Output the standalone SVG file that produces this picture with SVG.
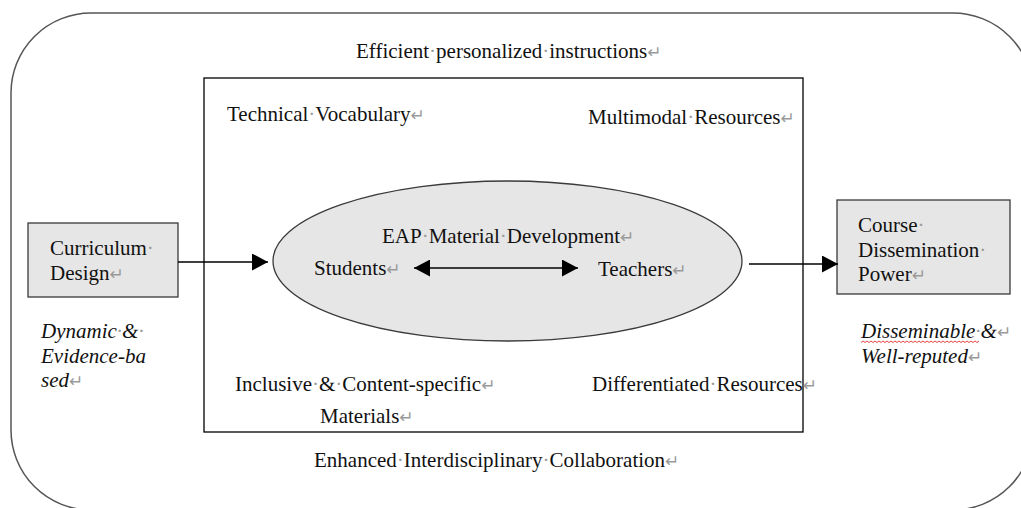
<svg xmlns="http://www.w3.org/2000/svg" width="1021" height="508" viewBox="0 0 1021 508">
  <defs>
    <style>
      .t { font-family: "Liberation Serif", "Times New Roman", serif; font-size: 21px; fill: #111; }
      .it { font-style: italic; }
      .fm { fill: #9a9a9a; }
      .ret { font-family: "DejaVu Sans", sans-serif; font-size: 17px; font-style: normal; fill: #9a9a9a; }
      .box { fill: #e6e6e6; stroke: #3a3a3a; stroke-width: 1.3; }
      .conn { stroke: #000; stroke-width: 1.3; fill: none; }
    </style>
    <marker id="head" viewBox="0 0 16 17" refX="16" refY="8.5" markerWidth="16" markerHeight="17" markerUnits="userSpaceOnUse" orient="auto-start-reverse">
      <path d="M0,0 L16,8.5 L0,17 z" fill="#000"/>
    </marker>
  </defs>

  <rect width="1021" height="508" fill="#fff"/>

  <!-- outer rounded frame -->
  <g id="frame">
    <rect x="11" y="13" width="1022" height="497" rx="80" ry="80" fill="none" stroke="#555" stroke-width="1.5"/>
    <text class="t" x="356" y="58">Efficient<tspan class="fm">·</tspan>personalized<tspan class="fm">·</tspan>instructions<tspan class="ret">↵</tspan></text>
    <text class="t" x="314" y="467">Enhanced<tspan class="fm">·</tspan>Interdisciplinary<tspan class="fm">·</tspan>Collaboration<tspan class="ret">↵</tspan></text>
  </g>

  <!-- inner panel -->
  <g id="panel">
    <rect x="204" y="78" width="599" height="354" fill="none" stroke="#000" stroke-width="1.3"/>
    <text class="t" x="227" y="121">Technical<tspan class="fm">·</tspan>Vocabulary<tspan class="ret">↵</tspan></text>
    <text class="t" x="588" y="124">Multimodal<tspan class="fm">·</tspan>Resources<tspan class="ret">↵</tspan></text>
    <text class="t" x="235" y="391">Inclusive<tspan class="fm">·</tspan>&amp;<tspan class="fm">·</tspan>Content-specific<tspan class="ret">↵</tspan></text>
    <text class="t" x="320" y="423">Materials<tspan class="ret">↵</tspan></text>
    <text class="t" x="592" y="391">Differentiated<tspan class="fm">·</tspan>Resources<tspan class="ret">↵</tspan></text>
  </g>

  <!-- central ellipse -->
  <g id="core">
    <ellipse cx="507.5" cy="261" rx="234.5" ry="80" fill="#e6e6e6" stroke="#3a3a3a" stroke-width="1.3"/>
    <text class="t" x="382" y="243">EAP<tspan class="fm">·</tspan>Material<tspan class="fm">·</tspan>Development<tspan class="ret">↵</tspan></text>
  </g>

  <g id="students">
    <text class="t" x="314" y="275">Students<tspan class="ret">↵</tspan></text>
  </g>

  <g id="teachers">
    <text class="t" x="598" y="276">Teachers<tspan class="ret">↵</tspan></text>
  </g>

  <g id="curriculum">
    <rect class="box" x="28" y="223" width="150" height="74"/>
    <text class="t" x="50" y="255">Curriculum<tspan class="fm">·</tspan></text>
    <text class="t" x="50" y="280">Design<tspan class="ret">↵</tspan></text>
    <text class="t it" x="41" y="338">Dynamic<tspan class="fm">·</tspan>&amp;<tspan class="fm">·</tspan></text>
    <text class="t it" x="41" y="363">Evidence-ba</text>
    <text class="t it" x="41" y="387">sed<tspan class="ret">↵</tspan></text>
  </g>

  <g id="dissemination">
    <rect class="box" x="837" y="200" width="173" height="94"/>
    <text class="t" x="858" y="232">Course<tspan class="fm">·</tspan></text>
    <text class="t" x="858" y="257">Dissemination<tspan class="fm">·</tspan></text>
    <text class="t" x="858" y="281">Power<tspan class="ret">↵</tspan></text>
    <text class="t it" x="861" y="338">Disseminable<tspan class="fm">·</tspan>&amp;<tspan class="ret">↵</tspan></text>
    <text class="t it" x="861" y="363">Well-reputed<tspan class="ret">↵</tspan></text>
    <!-- spell-check squiggle -->
    <path d="M861,342.5 l2,-1.5 l2,1.5 l2,-1.5 l2,1.5 l2,-1.5 l2,1.5 l2,-1.5 l2,1.5 l2,-1.5 l2,1.5 l2,-1.5 l2,1.5 l2,-1.5 l2,1.5 l2,-1.5 l2,1.5 l2,-1.5 l2,1.5 l2,-1.5 l2,1.5 l2,-1.5 l2,1.5 l2,-1.5 l2,1.5 l2,-1.5 l2,1.5 l2,-1.5 l2,1.5 l2,-1.5 l2,1.5 l2,-1.5 l2,1.5 l2,-1.5 l2,1.5 l2,-1.5 l2,1.5 l2,-1.5 l2,1.5 l2,-1.5 l2,1.5 l2,-1.5 l2,1.5 l2,-1.5 l2,1.5 l2,-1.5 l2,1.5 l2,-1.5 l2,1.5 l2,-1.5 l2,1.5 l2,-1.5 l2,1.5 l2,-1.5 l2,1.5 l2,-1.5 l2,1.5 l2,-1.5 l2,1.5 l2,-1.5" fill="none" stroke="#e03030" stroke-width="0.9"/>
  </g>

  <!-- connectors -->
  <g id="connectors">
    <line class="conn" x1="178" y1="262" x2="268" y2="262" marker-end="url(#head)"/>
    <line class="conn" x1="749" y1="264" x2="838" y2="264" marker-end="url(#head)"/>
    <line class="conn" x1="414" y1="268" x2="578" y2="268" marker-start="url(#head)" marker-end="url(#head)"/>
  </g>
</svg>
